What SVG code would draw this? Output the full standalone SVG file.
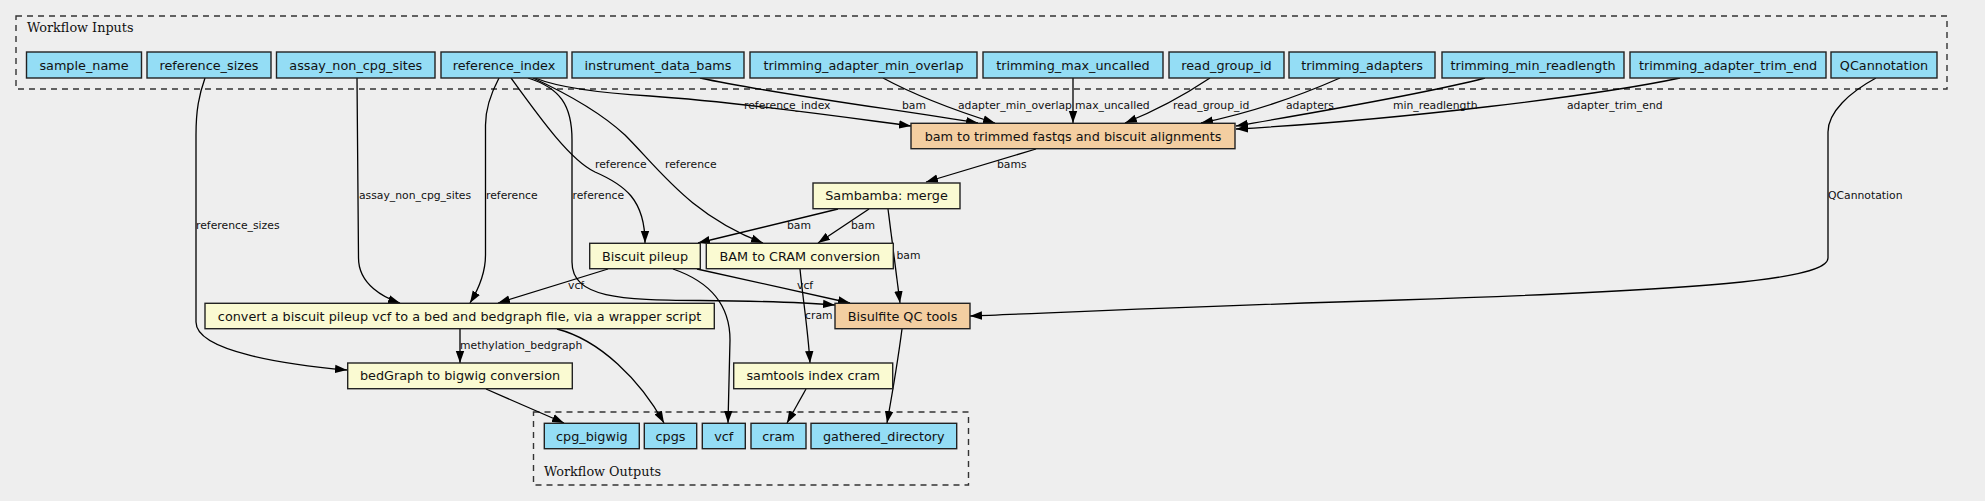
<svg xmlns="http://www.w3.org/2000/svg" width="1985" height="501" viewBox="0 0 1985 501">
<style>
.bg{fill:#eeeeee}
.cluster{fill:none;stroke:#333;stroke-width:1.4;stroke-dasharray:6,5}
.clabel{font-family:"DejaVu Serif",serif;font-size:12.8px;fill:#111}
.inp{fill:#94ddf5;stroke:#222;stroke-width:1.4}
.tool{fill:#fafad2;stroke:#222;stroke-width:1.4}
.sub{fill:#f3cea1;stroke:#222;stroke-width:1.4}
.nl{font-family:"DejaVu Sans",sans-serif;font-size:12.8px;fill:#111;text-anchor:middle}
.e{fill:none;stroke:#000;stroke-width:1.3;marker-end:url(#ah)}
.el{font-family:"DejaVu Sans",sans-serif;font-size:10.8px;fill:#111}
</style>
<defs>
<marker id="ah" markerUnits="userSpaceOnUse" markerWidth="12" markerHeight="10" viewBox="0 0 12 10" refX="12" refY="5" orient="auto">
<path d="M0,0.8 L12,5 L0,9.2 Z" fill="#000"/>
</marker>
</defs>
<rect class="bg" x="0" y="0" width="1985" height="501"/>

<g id="cluster_inputs">
<rect class="cluster" x="16" y="16" width="1931" height="73"/>
<text class="clabel" x="27" y="32">Workflow Inputs</text>
</g>
<g id="cluster_outputs">
<rect class="cluster" x="533.5" y="412" width="435" height="73"/>
<text class="clabel" x="544" y="476">Workflow Outputs</text>
</g>

<g id="connectors">
<path class="e" d="M205,78 C199,95 196,110 196,135 L196,322 C196,352 290,365 347,370"/>
<path class="e" d="M357,78 L358.5,258 C358.5,285 385,298 400,303"/>
<path class="e" d="M499,78 C490,95 485.5,110 485.5,125 L485.5,255 C485.5,275 478,290 470,303"/>
<path class="e" d="M528,78 C560,88 572,105 572,140 L572,262 C572,298 620,300 700,300.5 C760,301 800,302 835,305"/>
<path class="e" d="M511,78 C540,118 570,160 595,172 C625,185 645,200 645,243"/>
<path class="e" d="M533,78 C570,95 600,112 625,135 C660,170 690,215 763,243"/>
<path class="e" d="M535,78 C560,88 600,93 650,96 C750,103 850,118 911,126"/>
<path class="e" d="M700,78 C780,95 900,110 978,123"/>
<path class="e" d="M883,78 C920,98 960,112 995,123"/>
<path class="e" d="M1073,78 L1073,123"/>
<path class="e" d="M1210,78 C1180,98 1150,113 1125,123"/>
<path class="e" d="M1340,78 C1290,100 1240,115 1201,123"/>
<path class="e" d="M1485,78 C1420,95 1300,115 1236,126"/>
<path class="e" d="M1680,78 C1600,95 1400,120 1236,129"/>
<path class="e" d="M1876,78 C1850,92 1828,112 1828,132 L1828,258 C1828,280 1700,290 1400,300 C1200,306 1050,313 970,316"/>
<path class="e" d="M1036,149 L926,182"/>
<path class="e" d="M838,209 L698,243"/>
<path class="e" d="M869,209 L818,243"/>
<path class="e" d="M888,209 L900,303"/>
<path class="e" d="M608,269 L498,303"/>
<path class="e" d="M673,269 C705,280 730,300 730,340 L728,423"/>
<path class="e" d="M697,269 L850,303"/>
<path class="e" d="M800,269 C803,300 808,330 810,363"/>
<path class="e" d="M460,329 L460,363"/>
<path class="e" d="M557,329 C600,340 640,380 664,423"/>
<path class="e" d="M486,389 L564,423"/>
<path class="e" d="M806,389 L787,423"/>
<path class="e" d="M902,329 C898,360 892,395 887,423"/>

<text class="el" x="744" y="109">reference_index</text>
<text class="el" x="902" y="109">bam</text>
<text class="el" x="958" y="109">adapter_min_overlap</text>
<text class="el" x="1075" y="109">max_uncalled</text>
<text class="el" x="1173" y="109">read_group_id</text>
<text class="el" x="1286" y="109">adapters</text>
<text class="el" x="1393" y="109">min_readlength</text>
<text class="el" x="1567" y="109">adapter_trim_end</text>
<text class="el" x="196" y="229">reference_sizes</text>
<text class="el" x="359" y="199">assay_non_cpg_sites</text>
<text class="el" x="486" y="199">reference</text>
<text class="el" x="572.5" y="199">reference</text>
<text class="el" x="595" y="168">reference</text>
<text class="el" x="665" y="168">reference</text>
<text class="el" x="997" y="168">bams</text>
<text class="el" x="1828" y="199">QCannotation</text>
<text class="el" x="787" y="229">bam</text>
<text class="el" x="851" y="229">bam</text>
<text class="el" x="896.5" y="259">bam</text>
<text class="el" x="568" y="289">vcf</text>
<text class="el" x="797" y="289">vcf</text>
<text class="el" x="805" y="319">cram</text>
<text class="el" x="460" y="349">methylation_bedgraph</text>
</g>

<g id="sample_name"><rect class="inp" x="26.5" y="52" width="115" height="26"/><text class="nl" x="84" y="69.5">sample_name</text></g>
<g id="reference_sizes"><rect class="inp" x="147" y="52" width="124" height="26"/><text class="nl" x="209" y="69.5">reference_sizes</text></g>
<g id="assay_non_cpg_sites"><rect class="inp" x="276.5" y="52" width="158.5" height="26"/><text class="nl" x="355.8" y="69.5">assay_non_cpg_sites</text></g>
<g id="reference_index"><rect class="inp" x="441" y="52" width="126" height="26"/><text class="nl" x="504" y="69.5">reference_index</text></g>
<g id="instrument_data_bams"><rect class="inp" x="572" y="52" width="172" height="26"/><text class="nl" x="658" y="69.5">instrument_data_bams</text></g>
<g id="trimming_adapter_min_overlap"><rect class="inp" x="750" y="52" width="227" height="26"/><text class="nl" x="863.5" y="69.5">trimming_adapter_min_overlap</text></g>
<g id="trimming_max_uncalled"><rect class="inp" x="983" y="52" width="180" height="26"/><text class="nl" x="1073" y="69.5">trimming_max_uncalled</text></g>
<g id="read_group_id"><rect class="inp" x="1169" y="52" width="115" height="26"/><text class="nl" x="1226.5" y="69.5">read_group_id</text></g>
<g id="trimming_adapters"><rect class="inp" x="1289" y="52" width="146" height="26"/><text class="nl" x="1362" y="69.5">trimming_adapters</text></g>
<g id="trimming_min_readlength"><rect class="inp" x="1442" y="52" width="182" height="26"/><text class="nl" x="1533" y="69.5">trimming_min_readlength</text></g>
<g id="trimming_adapter_trim_end"><rect class="inp" x="1630" y="52" width="196" height="26"/><text class="nl" x="1728" y="69.5">trimming_adapter_trim_end</text></g>
<g id="QCannotation"><rect class="inp" x="1831" y="52" width="106" height="26"/><text class="nl" x="1884" y="69.5">QCannotation</text></g>

<g id="bam_to_trimmed_fastqs"><rect class="sub" x="911" y="123.3" width="324" height="25.4"/><text class="nl" x="1073" y="140.5">bam to trimmed fastqs and biscuit alignments</text></g>
<g id="sambamba_merge"><rect class="tool" x="813" y="183" width="147" height="25.7"/><text class="nl" x="886.5" y="200.3">Sambamba: merge</text></g>
<g id="biscuit_pileup"><rect class="tool" x="589.7" y="243.3" width="110.6" height="25.4"/><text class="nl" x="645" y="260.5">Biscuit pileup</text></g>
<g id="bam_to_cram"><rect class="tool" x="706.3" y="243.3" width="187" height="25.4"/><text class="nl" x="799.8" y="260.5">BAM to CRAM conversion</text></g>
<g id="bisulfite_qc"><rect class="sub" x="835" y="303.3" width="135" height="25.4"/><text class="nl" x="902.5" y="320.5">Bisulfite QC tools</text></g>
<g id="vcf2bed"><rect class="tool" x="205" y="303.3" width="509.3" height="25.4"/><text class="nl" x="459.6" y="320.5">convert a biscuit pileup vcf to a bed and bedgraph file, via a wrapper script</text></g>
<g id="bedgraph_to_bigwig"><rect class="tool" x="347.7" y="363" width="224.6" height="25.7"/><text class="nl" x="460" y="380.3">bedGraph to bigwig conversion</text></g>
<g id="samtools_index_cram"><rect class="tool" x="733.7" y="363" width="159" height="25.7"/><text class="nl" x="813.2" y="380.3">samtools index cram</text></g>

<g id="cpg_bigwig"><rect class="inp" x="544.3" y="423.3" width="95" height="25.4"/><text class="nl" x="591.8" y="440.5">cpg_bigwig</text></g>
<g id="cpgs"><rect class="inp" x="644.3" y="423.3" width="52.4" height="25.4"/><text class="nl" x="670.5" y="440.5">cpgs</text></g>
<g id="vcf"><rect class="inp" x="702.3" y="423.3" width="43" height="25.4"/><text class="nl" x="723.8" y="440.5">vcf</text></g>
<g id="cram"><rect class="inp" x="751" y="423.3" width="55" height="25.4"/><text class="nl" x="778.5" y="440.5">cram</text></g>
<g id="gathered_directory"><rect class="inp" x="811" y="423.3" width="145.7" height="25.4"/><text class="nl" x="883.8" y="440.5">gathered_directory</text></g>
</svg>
